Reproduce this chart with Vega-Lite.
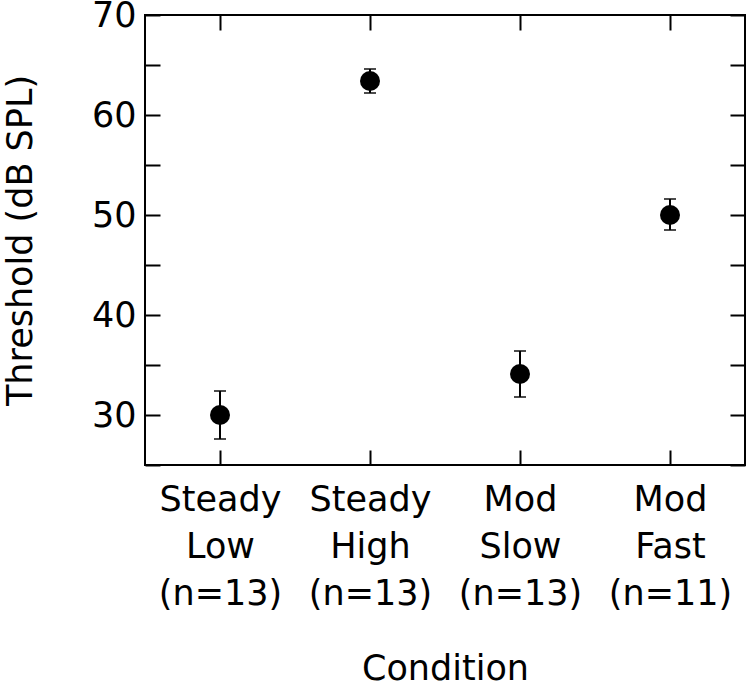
{
  "$schema": "https://vega.github.io/schema/vega-lite/v6.json",
  "width": 600,
  "height": 450,
  "autosize": "none",
  "padding": {"left": 145, "top": 15, "right": 5, "bottom": 221},
  "background": "white",
  "config": {
    "view": {"stroke": "black", "strokeWidth": 2},
    "font": "DejaVu Sans",
    "axis": {
      "domain": false,
      "grid": false,
      "tickColor": "black",
      "tickWidth": 2,
      "labelColor": "black",
      "titleColor": "black",
      "labelFont": "DejaVu Sans",
      "titleFont": "DejaVu Sans",
      "labelFontSize": 35,
      "titleFontSize": 35,
      "titleFontWeight": "normal"
    }
  },
  "data": {
    "values": [
      {"condition": "Steady Low (n=13)", "threshold": 30.0, "lo": 27.6, "hi": 32.4},
      {"condition": "Steady High (n=13)", "threshold": 63.4, "lo": 62.2, "hi": 64.6},
      {"condition": "Mod Slow (n=13)", "threshold": 34.1, "lo": 31.8, "hi": 36.4},
      {"condition": "Mod Fast (n=11)", "threshold": 50.0, "lo": 48.5, "hi": 51.6}
    ]
  },
  "resolve": {"axis": {"x": "independent", "y": "independent"}},
  "layer": [
    {
      "mark": {"type": "rule", "color": "black", "strokeWidth": 2},
      "encoding": {
        "x": {
          "field": "condition", "type": "nominal", "sort": null,
          "scale": {"type": "point", "padding": 0.5},
          "axis": {
            "orient": "bottom", "title": "Condition", "labelAngle": 0,
            "labelExpr": "split(datum.label, ' ')",
            "labelLineHeight": 47, "labelPadding": 32, "labelBaseline": "top",
            "tickSize": -15, "titlePadding": 40
          }
        },
        "y": {
          "field": "lo", "type": "quantitative",
          "scale": {"domain": [25, 70], "nice": false, "zero": false},
          "axis": {
            "orient": "left", "title": "Threshold (dB SPL)",
            "values": [25, 30, 35, 40, 45, 50, 55, 60, 65, 70],
            "labelExpr": "datum.value % 10 === 0 ? datum.label : ''",
            "tickSize": -15, "labelPadding": 24, "titlePadding": 53,
            "encode": {"ticks": {"update": {"x2": {"signal": "datum.value % 10 === 0 ? 15 : 8"}}}}
          }
        },
        "y2": {"field": "hi"}
      }
    },
    {
      "mark": {"type": "tick", "color": "black", "size": 12, "thickness": 2},
      "encoding": {
        "x": {
          "field": "condition", "type": "nominal", "sort": null,
          "axis": {"orient": "top", "title": null, "labels": false, "tickSize": -15}
        },
        "y": {
          "field": "lo", "type": "quantitative",
          "axis": {
            "orient": "right", "title": null, "labels": false,
            "values": [25, 30, 35, 40, 45, 50, 55, 60, 65, 70],
            "tickSize": -15,
            "encode": {"ticks": {"update": {"x2": {"signal": "datum.value % 10 === 0 ? -15 : -8"}}}}
          }
        }
      }
    },
    {
      "mark": {"type": "tick", "color": "black", "size": 12, "thickness": 2},
      "encoding": {
        "x": {"field": "condition", "type": "nominal", "sort": null, "axis": null},
        "y": {"field": "hi", "type": "quantitative", "axis": null}
      }
    },
    {
      "mark": {"type": "point", "shape": "circle", "filled": true, "color": "black", "opacity": 1, "size": 400},
      "encoding": {
        "x": {"field": "condition", "type": "nominal", "sort": null, "axis": null},
        "y": {"field": "threshold", "type": "quantitative", "axis": null}
      }
    }
  ]
}
